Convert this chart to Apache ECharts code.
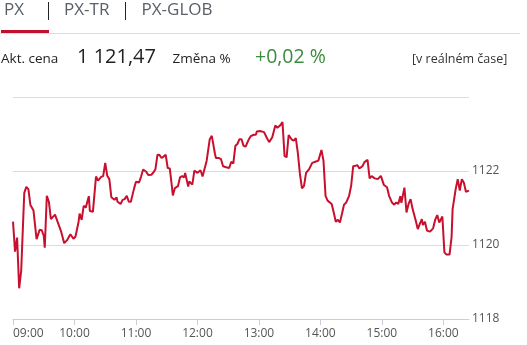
<!DOCTYPE html>
<html>
<head>
<meta charset="utf-8">
<script src="https://cdn.jsdelivr.net/npm/echarts@6/dist/echarts.min.js"></script>
<style>
html,body{margin:0;padding:0;background:#fff;}
#c{width:527px;height:345px;}
</style>
</head>
<body>
<div id="c"></div>
<script>
// Session open 09:00; times are minutes after 09:00
const tabs = ['PX', 'PX-TR', 'PX-GLOB'];
const lastPrice = '1 121,47';
const changePct = '+0,02 %';
const yTicks = [1118, 1120, 1122, 1124];
const hourLabels = ['09:00','10:00','11:00','12:00','13:00','14:00','15:00','16:00'];
const minutesFromOpen = [
  0,2,4,6,8,11,13,15,17,20,23,26,28,30,31,33,35,37,41,44,47,50,53,56,59,
  61,64,65,67,69,71,74,75,78,81,83,86,88,90,92,94,96,99,101,102,105,107,109,111,113,115,
  118,120,123,125,127,130,132,135,137,139,141,143,145,147,149,151,153,155,156,158,161,163,165,167,168,171,172,175,177,
  180,181,183,185,189,192,194,197,198,201,203,205,208,211,213,215,217,219,221,223,225,227,230,232,235,237,238,
  241,245,248,250,253,256,258,261,263,265,267,269,272,274,276,278,280,282,284,286,289,292,295,298,
  301,303,305,307,311,313,315,317,319,321,323,325,328,330,332,334,336,338,341,343,346,348,350,353,356,359,
  362,365,367,370,372,374,376,378,379,382,384,386,388,390,393,395,397,399,400,402,404,407,410,412,414,416,419,
  421,423,426,428,429,432,434,436,438,440,442,445
];
const prices = [
  1120.63,1119.82,1120.20,1118.83,1119.31,1121.41,1121.57,1121.51,1121.08,1120.93,1120.16,1120.41,1120.40,1120.25,1119.93,1121.33,1121.17,1120.70,1120.82,1120.59,1120.36,1120.05,1120.14,1120.29,1120.17,
  1120.23,1120.63,1120.85,1120.68,1121.06,1121.01,1121.32,1120.92,1120.90,1121.85,1121.74,1121.84,1121.86,1122.22,1121.87,1121.78,1121.29,1121.22,1121.29,1121.17,1121.11,1121.22,1121.24,1121.33,1121.17,1121.17,
  1121.51,1121.71,1121.69,1121.85,1122.04,1121.98,1121.89,1121.90,1121.96,1122.05,1122.44,1122.43,1122.35,1122.39,1122.44,1122.08,1122.07,1121.60,1121.34,1121.54,1121.59,1121.83,1121.86,1121.83,1121.95,1121.58,1121.72,1121.63,1122.01,
  1121.95,1121.91,1122.02,1121.85,1122.28,1122.86,1122.95,1122.48,1122.35,1122.35,1122.32,1122.13,1122.10,1122.08,1122.25,1122.20,1122.68,1122.73,1122.86,1122.86,1122.68,1122.66,1122.85,1122.94,1122.98,1122.98,1123.07,
  1123.08,1123.05,1122.88,1122.78,1122.91,1123.23,1123.17,1123.24,1123.32,1122.41,1122.37,1122.97,1122.85,1122.82,1122.89,1122.48,1121.92,1121.53,1121.60,1121.95,1122.05,1122.22,1122.25,1122.28,
  1122.57,1122.28,1121.33,1121.20,1121.11,1120.88,1120.63,1120.68,1120.61,1120.84,1121.09,1121.14,1121.33,1121.60,1122.13,1122.14,1122.16,1122.07,1122.13,1122.24,1122.30,1121.80,1121.86,1121.80,1121.78,1121.87,
  1121.62,1121.56,1121.33,1121.14,1121.09,1121.15,1121.11,1121.32,1121.14,1121.55,1120.88,1121.11,1121.24,1120.97,1120.66,1120.43,1120.57,1120.70,1120.54,1120.63,1120.39,1120.36,1120.45,1120.68,1120.81,1120.61,1120.77,
  1119.80,1119.74,1119.74,1120.21,1120.97,1121.51,1121.78,1121.47,1121.78,1121.68,1121.44,1121.47
];

const seriesData = minutesFromOpen.map((m, i) => [m, prices[i]]);
const hourTicks = hourLabels.map((_, i) => i * 60);
const FONT = "'Open Sans', sans-serif";

const chart = echarts.init(document.getElementById('c'), null, {renderer: 'canvas'});
chart.setOption({
  animation: false,
  backgroundColor: '#fff',
  grid: {left: 13, right: 58, top: 97, bottom: 26},
  xAxis: {
    type: 'value',
    min: 0,
    max: 445,
    axisLine: {show: true, lineStyle: {color: '#c5d0dc', width: 1}},
    axisTick: {show: true, length: 6, lineStyle: {color: '#c5d0dc'}, customValues: hourTicks},
    axisLabel: {
      color: '#555', fontSize: 12, fontFamily: FONT, margin: 9,
      customValues: hourTicks,
      alignMinLabel: 'left',
      formatter: v => hourLabels[Math.round(v / 60)] || ''
    },
    splitLine: {show: false}
  },
  yAxis: {
    type: 'value',
    position: 'right',
    min: yTicks[0],
    max: yTicks[yTicks.length - 1],
    interval: 2,
    axisLine: {show: false},
    axisTick: {show: false},
    axisLabel: {
      color: '#555', fontSize: 12, fontFamily: FONT, margin: 3,
      verticalAlign: 'middle',
      padding: [0, 0, 12, 0],
      showMaxLabel: false,
      formatter: v => (v === yTicks[yTicks.length - 1] ? '' : String(v))
    },
    splitLine: {show: true, lineStyle: {color: '#dcdcdc', width: 1}}
  },
  series: [{
    type: 'line',
    data: seriesData,
    showSymbol: false,
    symbol: 'none',
    lineStyle: {color: '#c8102e', width: 2},
    itemStyle: {color: '#c8102e'}
  }],
  graphic: [
    {type: 'text', style: {text: tabs[0], x: 4, y: 10.5, font: "17px " + FONT, fill: '#5a6066', textVerticalAlign: 'middle'}},
    {type: 'line', shape: {x1: 48.5, y1: 2, x2: 48.5, y2: 20}, style: {stroke: '#222', lineWidth: 1}},
    {type: 'text', style: {text: tabs[1], x: 64, y: 10.5, font: "17px " + FONT, fill: '#5a6066', textVerticalAlign: 'middle'}},
    {type: 'line', shape: {x1: 125.5, y1: 2, x2: 125.5, y2: 20}, style: {stroke: '#222', lineWidth: 1}},
    {type: 'text', style: {text: tabs[2], x: 141.5, y: 10.5, font: "17px " + FONT, fill: '#5a6066', textVerticalAlign: 'middle'}},
    {type: 'rect', shape: {x: 0, y: 33, width: 520, height: 1}, style: {fill: '#dddddd'}},
    {type: 'rect', shape: {x: 1, y: 30, width: 48, height: 3}, style: {fill: '#c4112b'}},
    {type: 'text', style: {text: 'Akt. cena', x: 1, y: 59.5, font: "13.5px " + FONT, fill: '#222', textVerticalAlign: 'middle'}},
    {type: 'text', style: {text: lastPrice, x: 77, y: 57.5, font: "20px " + FONT, fill: '#222', textVerticalAlign: 'middle'}},
    {type: 'text', style: {text: 'Změna %', x: 172.5, y: 59.5, font: "13.5px " + FONT, fill: '#222', textVerticalAlign: 'middle'}},
    {type: 'text', style: {text: changePct, x: 255, y: 57.5, font: "19.5px " + FONT, fill: '#3d8b3d', textVerticalAlign: 'middle'}},
    {type: 'text', style: {text: '[v reálném čase]', x: 412, y: 59.5, font: "12.5px " + FONT, fill: '#333', textVerticalAlign: 'middle'}}
  ]
});
</script>
</body>
</html>
